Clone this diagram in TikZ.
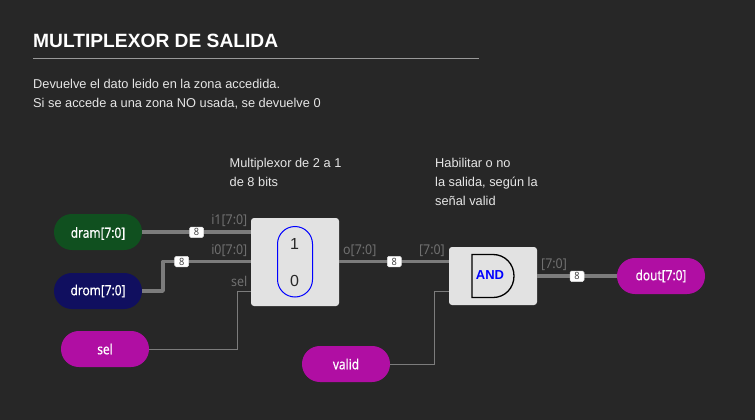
\documentclass[tikz,border=0pt]{standalone}
\usepackage{fontspec}
\setmainfont{Liberation Sans}
\newfontfamily\labelfont[FakeStretch=0.85,FakeBold=0.4]{Noto Sans}
\newfontfamily\portfont[FakeStretch=0.92]{Noto Sans}
\definecolor{bgc}{HTML}{272727}
\definecolor{wirec}{HTML}{7C7C7C}
\definecolor{labc}{HTML}{707070}
\definecolor{purp}{HTML}{B00EA3}
\definecolor{dgreen}{HTML}{10501F}
\definecolor{dblue}{HTML}{100F5F}
\definecolor{boxc}{HTML}{E2E2E2}
\definecolor{txtc}{HTML}{E6E6E6}
\tikzset{
  pill/.style={rounded corners=17.9pt,minimum width=88pt,minimum height=36pt,inner sep=0pt,text=white,font=\labelfont\fontsize{14}{14}\selectfont},
  pilltext/.style={inner sep=0pt,text=white,font=\labelfont\fontsize{14}{14}\selectfont},
  blockbox/.style={fill=boxc,rounded corners=3pt,minimum width=88pt,inner sep=0pt},
  bus/.style={draw=wirec,line width=3.4pt,line join=round},
  sig/.style={draw=wirec,line width=1pt},
  badge/.style={fill=white,draw=boxc,line width=.5pt,rounded corners=1.5pt,minimum width=14pt,minimum height=10.5pt,inner sep=0pt,text=black!75,font=\portfont\fontsize{10}{10}\selectfont},
  portlab/.style={text=labc,inner sep=0pt,font=\portfont\fontsize{13.5}{13.5}\selectfont},
  note/.style={text=txtc,anchor=base west,inner sep=0pt,font=\fontsize{12.8}{12.8}\selectfont},
}
\begin{document}
\begin{tikzpicture}[x=1pt,y=-1pt]
\path[use as bounding box,fill=bgc] (0,0) rectangle (755,420);
\node[anchor=base west,inner sep=0pt,text=white,font=\bfseries\fontsize{19.2}{19.2}\selectfont] (title) at (33,47.5) {MULTIPLEXOR DE SALIDA};
\coordinate (ruleL) at (33,58.7); \coordinate (ruleR) at (479,58.7);
\draw[draw=black!40!white,line width=1.3pt] (ruleL) -- (ruleR);
\node[note] (d1) at (33,88.5) {Devuelve el dato leido en la zona accedida.};
\node[note] (d2) at (33,107.5) {Si se accede a una zona NO usada, se devuelve 0};
\node[note] (n1) at (229.5,167) {Multiplexor de 2 a 1};
\node[note] (n2) at (229.5,186) {de 8 bits};
\node[note] (n3) at (435,167) {Habilitar o no};
\node[note] (n4) at (435,186) {la salida, según la};
\node[note] (n5) at (435,205) {señal valid};
\node[pill,fill=dgreen,text depth=0pt,yshift=0pt] (dram) at (98,232) {\raisebox{-.8pt}{dram[7:0]}};
\node[pill,fill=dblue] (drom) at (98,291) {\raisebox{-.8pt}{drom[7:0]}};
\node[pill,fill=purp] (sel) at (105,349) {\raisebox{-.8pt}{sel}};
\node[pill,fill=purp] (valid) at (346,364) {\raisebox{-.8pt}{valid}};
\node[pill,fill=purp] (dout) at (661,276) {\raisebox{-.8pt}{dout[7:0]}};
\node[blockbox,minimum height=88pt] (mux) at (295,262) {};
\node[blockbox,minimum height=58pt] (andb) at (493,276) {};
\draw[blue,line width=1pt,rounded corners=17.5pt] (277.5,226.5) rectangle (312.5,297);
\node[inner sep=0pt,font=\fontsize{16}{16}\selectfont,text=bgc] (one) at (294.5,243.5) {1};
\node[inner sep=0pt,font=\fontsize{16}{16}\selectfont,text=bgc] (zero) at (294.5,280.5) {0};
\draw[black,line width=1.3pt,line join=miter] (472,254.5) -- (493,254.5) .. controls (505,254.5) and (514,264) .. (514,276) .. controls (514,288) and (505,297.5) .. (493,297.5) -- (472,297.5) -- cycle;
\node[inner sep=0pt,text=blue,font=\bfseries\fontsize{13}{13}\selectfont] (andt) at (490,275.5) {AND};
% connectors
\coordinate (muxi1) at (mux.west |- dram);
\coordinate (muxi0) at (251,261.5);
\coordinate (muxs) at (251,291);
\coordinate (muxo) at (339,261.5);
\coordinate (andi) at (449,261.5);
\coordinate (ands) at (449,291);
\coordinate (ando) at (537,276);
\draw[bus] (dram.east) -- (muxi1);
\draw[bus] (drom.east) -- (163,291) -- (163,261.5) -- (muxi0);
\draw[sig] (sel.east) -- (237,349) -- (237,291) -- (muxs);
\draw[bus] (muxo) -- (andi);
\draw[sig] (valid.east) -- (434,364) -- (434,291) -- (ands);
\draw[bus] (ando) -- (dout.west);
\node[badge] (b1) at (196.5,232.3) {8};
\node[badge] (b2) at (181.7,261.5) {8};
\node[badge] (b3) at (394.3,261.5) {8};
\node[badge] (b4) at (577,276.3) {8};
\node[portlab,anchor=base east] (l1) at (247.5,224) {i1[7:0]};
\node[portlab,anchor=base east] (l2) at (247.5,254) {i0[7:0]};
\node[portlab,anchor=base east] (l3) at (247.5,286) {sel};
\node[portlab,anchor=base west] (l4) at (343,254.5) {o[7:0]};
\node[portlab,anchor=base east] (l5) at (445,254.5) {[7:0]};
\node[portlab,anchor=base west] (l6) at (541,268.5) {[7:0]};
\end{tikzpicture}
\end{document}
